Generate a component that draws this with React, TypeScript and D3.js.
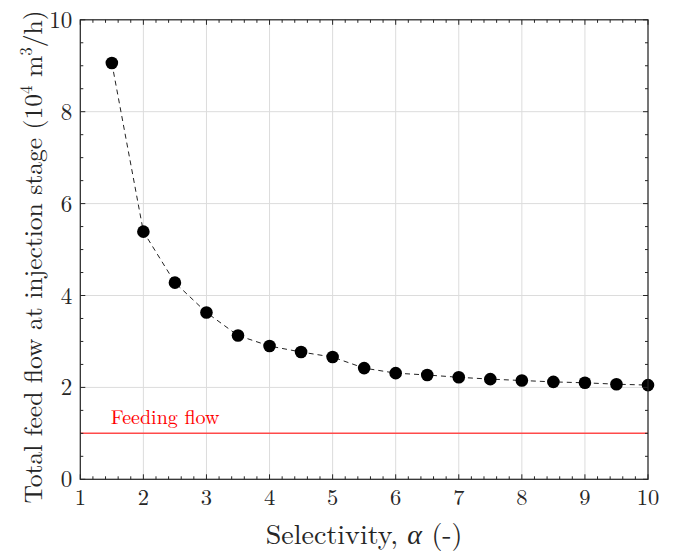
import React from "react";
import * as d3 from "d3";

const selectivity = [1.5, 2, 2.5, 3, 3.5, 4, 4.5, 5, 5.5, 6, 6.5, 7, 7.5, 8, 8.5, 9, 9.5, 10];
const feedFlow = [9.06, 5.39, 4.28, 3.63, 3.13, 2.9, 2.77, 2.66, 2.42, 2.31, 2.27, 2.22, 2.18, 2.15, 2.12, 2.1, 2.07, 2.05];
const feedingFlow = 1;
const xTicks = [1, 2, 3, 4, 5, 6, 7, 8, 9, 10];
const yTicks = [0, 2, 4, 6, 8, 10];

const W = 680, H = 554;
const m = { left: 80.3, right: 648, top: 19.8, bottom: 479.3 };
const FONT = "'Latin Modern Roman', 'CMU Serif', 'DejaVu Serif', serif";

export default function App() {
  const x = d3.scaleLinear().domain([1, 10]).range([m.left, m.right]);
  const y = d3.scaleLinear().domain([0, 10]).range([m.bottom, m.top]);
  const xMinor = d3.range(1, 10.001, 0.2);
  const yMinor = d3.range(0, 10.001, 0.5);
  const line = d3.line<number>().x((_, i) => x(selectivity[i])).y((d) => y(d));
  const tl = 5, tm = 3;
  return (
    <svg width={W} height={H} style={{ position: "absolute", left: 0, top: 0, background: "#fff" }}>
      {xTicks.map((t) => (
        <line key={"gx" + t} x1={x(t)} x2={x(t)} y1={m.top} y2={m.bottom} stroke="#dcdcdc" strokeWidth={1} />
      ))}
      {yTicks.map((t) => (
        <line key={"gy" + t} x1={m.left} x2={m.right} y1={y(t)} y2={y(t)} stroke="#dcdcdc" strokeWidth={1} />
      ))}
      <line x1={m.left} x2={m.right} y1={y(feedingFlow)} y2={y(feedingFlow)} stroke="#ff4a4a" strokeWidth={1.5} />
      <text x={x(1.5) - 1} y={y(feedingFlow) - 9} fill="#ff0000" fontFamily={FONT} fontSize={20}>Feeding flow</text>
      <path d={line(feedFlow) || ""} fill="none" stroke="#222" strokeWidth={1} strokeDasharray="5,4" />
      {feedFlow.map((v, i) => (
        <circle key={i} cx={x(selectivity[i])} cy={y(v)} r={6.3} fill="#000" />
      ))}
      <rect x={m.left} y={m.top} width={m.right - m.left} height={m.bottom - m.top} fill="none" stroke="#262626" strokeWidth={1.2} />
      {xMinor.map((t, i) => {
        const isMajor = Math.abs(t - Math.round(t)) < 1e-6;
        const len = isMajor ? tl : tm;
        return (
          <g key={"xt" + i} stroke="#262626" strokeWidth={1}>
            <line x1={x(t)} x2={x(t)} y1={m.bottom} y2={m.bottom - len} />
            <line x1={x(t)} x2={x(t)} y1={m.top} y2={m.top + len} />
          </g>
        );
      })}
      {yMinor.map((t, i) => {
        const isMajor = Math.abs(t / 2 - Math.round(t / 2)) < 1e-6;
        const len = isMajor ? tl : tm;
        return (
          <g key={"yt" + i} stroke="#262626" strokeWidth={1}>
            <line x1={m.left} x2={m.left + len} y1={y(t)} y2={y(t)} />
            <line x1={m.right} x2={m.right - len} y1={y(t)} y2={y(t)} />
          </g>
        );
      })}
      {xTicks.map((t) => (
        <text key={"xl" + t} x={x(t)} y={m.bottom + 26} textAnchor="middle" fontFamily={FONT} fontSize={22.5} fill="#262626">{t}</text>
      ))}
      {yTicks.map((t) => (
        <text key={"yl" + t} x={m.left - 8} y={y(t) + 8} textAnchor="end" fontFamily={FONT} fontSize={23} fill="#262626">{t}</text>
      ))}
      <text x={(m.left + m.right) / 2} y={544} textAnchor="middle" fontFamily={FONT} fontSize={28} fill="#262626">
        Selectivity, <tspan fontStyle="italic" fontFamily="'Liberation Serif', serif">α</tspan> (-)
      </text>
      <text transform={`translate(42, 257) rotate(-90)`} textAnchor="middle" fontFamily={FONT} fontSize={25.5} fill="#262626">
        Total feed flow at injection stage (10<tspan dy={-10} fontSize={17}>4</tspan><tspan dy={10}> m</tspan><tspan dy={-10} fontSize={17}>3</tspan><tspan dy={10}>/h)</tspan>
      </text>
    </svg>
  );
}
